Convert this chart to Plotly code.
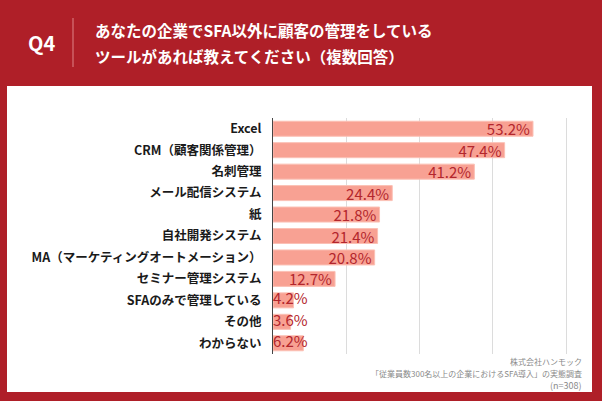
import plotly.graph_objects as go

categories = ["Excel", "CRM（顧客関係管理）", "名刺管理", "メール配信システム", "紙", "自社開発システム",
              "MA（マーケティングオートメーション）", "セミナー管理システム", "SFAのみで管理している", "その他", "わからない"]
values = [53.2, 47.4, 41.2, 24.4, 21.8, 21.4, 20.8, 12.7, 4.2, 3.6, 6.2]
x_ticks = [0, 15, 30, 45, 60]

W, H = 602, 401
L, R, T, B = 273, 585, 118, 354
FONT = "Noto Sans CJK JP"
RED = "#AF1F28"


def px(x):
    return (x - L) / (R - L)


def py(y):
    return (B - y) / (B - T)


big_text = [f"{v:.1f}%" if v >= 10 else "" for v in values]
small_x = [0 for v in values if v < 10]
small_y = [c for c, v in zip(categories, values) if v < 10]
small_t = [f"{v:.1f}%" for v in values if v < 10]

fig = go.Figure()
fig.add_trace(go.Bar(
    x=values, y=categories, orientation="h",
    marker=dict(color="#F8A193", line=dict(color="#FBC0B5", width=1)),
    text=big_text, textposition="inside", insidetextanchor="end", textangle=0,
    constraintext="none",
    textfont=dict(family=FONT, size=15, color="#B3262D"),
    hoverinfo="skip",
))
fig.add_trace(go.Scatter(
    x=small_x, y=small_y, mode="text", text=small_t, textposition="middle right",
    textfont=dict(family=FONT, size=15, color="#B3262D"), cliponaxis=False,
    hoverinfo="skip", showlegend=False,
))

shapes = [
    dict(type="rect", xref="paper", yref="paper", x0=px(7), x1=px(592), y0=py(86), y1=py(392),
         fillcolor="white", line=dict(width=0), layer="below"),
    dict(type="line", xref="paper", yref="paper", x0=px(73), x1=px(73), y0=py(18), y1=py(67),
         line=dict(color="rgba(255,200,200,0.6)", width=1)),
]

annotations = [
    dict(text="<b>Q4</b>", x=px(41), y=py(43), xref="paper", yref="paper", showarrow=False,
         font=dict(family=FONT, size=20, color="white"), xanchor="center", yanchor="middle"),
    dict(text="<b>あなたの企業でSFA以外に顧客の管理をしている</b>", x=px(93), y=py(30), xref="paper", yref="paper",
         showarrow=False, font=dict(family=FONT, size=15.5, color="white"), xanchor="left", yanchor="middle"),
    dict(text="<b>ツールがあれば教えてください（複数回答）</b>", x=px(93), y=py(56), xref="paper", yref="paper",
         showarrow=False, font=dict(family=FONT, size=15.5, color="white"), xanchor="left", yanchor="middle"),
    dict(text="株式会社ハンモック", x=px(584), y=py(361), xref="paper", yref="paper", showarrow=False,
         font=dict(family=FONT, size=8, color="#8a8a8a"), xanchor="right", yanchor="middle"),
    dict(text="「従業員数300名以上の企業におけるSFA導入」の実態調査", x=px(584), y=py(373), xref="paper", yref="paper",
         showarrow=False, font=dict(family=FONT, size=8, color="#8a8a8a"), xanchor="right", yanchor="middle"),
    dict(text="(n=308)", x=px(584), y=py(385), xref="paper", yref="paper", showarrow=False,
         font=dict(family=FONT, size=9, color="#8a8a8a"), xanchor="right", yanchor="middle"),
]

fig.update_layout(
    width=W, height=H,
    margin=dict(l=L, r=W - R, t=T, b=H - B, pad=0),
    paper_bgcolor=RED, plot_bgcolor="white",
    showlegend=False, bargap=0.3,
    shapes=shapes, annotations=annotations,
    xaxis=dict(range=[0, (R - L) / 4.887], tickvals=x_ticks, showticklabels=False,
               showgrid=True, gridcolor="#dcdcdc", gridwidth=1, zeroline=False,
               showline=False, fixedrange=True),
    yaxis=dict(categoryorder="array", categoryarray=categories[::-1], autorange=False,
               range=[-0.5, len(categories) - 0.5],
               tickfont=dict(family=FONT, size=12.5, color="#1a1a1a", weight="bold"),
               ticks="", ticklabelstandoff=8, showline=True, linecolor="#444", linewidth=1,
               showgrid=False, fixedrange=True),
)

fig.write_html("out.html", config={"displayModeBar": False, "staticPlot": True},
               post_script="document.body.style.margin='0';document.body.style.overflow='hidden';")
